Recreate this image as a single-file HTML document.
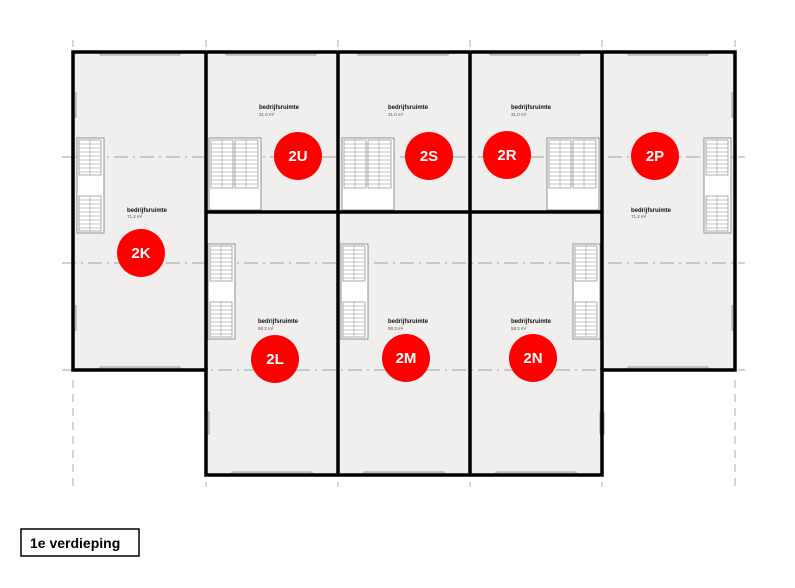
<!DOCTYPE html>
<html><head><style>body{margin:0;background:#fff}svg{display:block}</style></head><body>
<svg width="795" height="588" viewBox="0 0 795 588" xmlns="http://www.w3.org/2000/svg" font-family="Liberation Sans, sans-serif">
<defs>
<g id="stairV">
<rect x="0" y="0" width="27" height="95" fill="#fff" stroke="#777" stroke-width="0.8"/>
<rect x="2" y="2" width="22" height="35" fill="#fff" stroke="#777" stroke-width="0.6"/>
<rect x="2" y="58" width="22" height="35" fill="#fff" stroke="#777" stroke-width="0.6"/>
<path d="M2 6h22M2 10h22M2 14h22M2 18h22M2 22h22M2 26h22M2 30h22M2 34h22M2 62h22M2 66h22M2 70h22M2 74h22M2 78h22M2 82h22M2 86h22M2 90h22M13 2v35M13 58v35" stroke="#888" stroke-width="0.5"/>
</g>
<g id="stairT">
<rect x="0" y="0" width="52" height="72" fill="#fff" stroke="#777" stroke-width="0.8"/>
<rect x="2" y="2" width="22" height="48" fill="#fff" stroke="#777" stroke-width="0.6"/>
<rect x="26" y="2" width="23" height="48" fill="#fff" stroke="#777" stroke-width="0.6"/>
<path d="M2 6h47M2 10h47M2 14h47M2 18h47M2 22h47M2 26h47M2 30h47M2 34h47M2 38h47M2 42h47M2 46h47M13 2v48M37 2v48" stroke="#888" stroke-width="0.5"/>
</g>
</defs>
<!-- floors -->
<g fill="#f0efee">
<rect x="73" y="52" width="133" height="318"/>
<rect x="206" y="52" width="396" height="423"/>
<rect x="602" y="52" width="133" height="318"/>
</g>
<!-- axis dash-dot lines -->
<g stroke="#888" stroke-width="0.8" stroke-dasharray="14,5,2,5" fill="none">
<line x1="62" y1="157" x2="745" y2="157"/>
<line x1="62" y1="263" x2="745" y2="263"/>
<line x1="62" y1="370" x2="745" y2="370"/>
</g>
<g stroke="#999" stroke-width="0.8">
<line x1="73" y1="40" x2="73" y2="47"/><line x1="206" y1="40" x2="206" y2="47"/><line x1="338" y1="40" x2="338" y2="47"/><line x1="470" y1="40" x2="470" y2="47"/><line x1="602" y1="40" x2="602" y2="47"/><line x1="735" y1="40" x2="735" y2="47"/>
<line x1="73" y1="380" x2="73" y2="487"  stroke-dasharray="8,6"/><line x1="206" y1="482" x2="206" y2="487"/><line x1="338" y1="482" x2="338" y2="487"/><line x1="470" y1="482" x2="470" y2="487"/><line x1="602" y1="482" x2="602" y2="487"/><line x1="735" y1="380" x2="735" y2="487" stroke-dasharray="8,6"/>
</g>
<!-- stairs -->
<use href="#stairV" x="77" y="138"/>
<use href="#stairV" x="704" y="138"/>
<use href="#stairT" x="209" y="138"/>
<use href="#stairT" x="342" y="138"/>
<use href="#stairT" x="547" y="138"/>
<use href="#stairV" x="208" y="244"/>
<use href="#stairV" x="341" y="244"/>
<use href="#stairV" x="573" y="244"/>
<!-- windows -->
<g fill="#e4e4e4" stroke="#888" stroke-width="0.8">
<rect x="100" y="51" width="80" height="4"/><rect x="226" y="51" width="90" height="4"/><rect x="358" y="51" width="90" height="4"/><rect x="490" y="51" width="90" height="4"/><rect x="628" y="51" width="80" height="4"/>
<rect x="100" y="367" width="80" height="4"/><rect x="628" y="367" width="80" height="4"/>
<rect x="232" y="472" width="80" height="4"/><rect x="364" y="472" width="80" height="4"/><rect x="496" y="472" width="80" height="4"/>
<rect x="72" y="93" width="4" height="24"/><rect x="72" y="306" width="4" height="24"/><rect x="732" y="93" width="4" height="24"/><rect x="732" y="306" width="4" height="24"/>
<rect x="205" y="412" width="4" height="22"/><rect x="600" y="412" width="4" height="22"/>
</g>
<!-- walls -->
<g stroke="#000" stroke-width="3.5" fill="none">
<path d="M73 52H735V370H602V475H206V370H73Z"/>
<line x1="206" y1="52" x2="206" y2="370"/>
<line x1="338" y1="52" x2="338" y2="475"/>
<line x1="470" y1="52" x2="470" y2="475"/>
<line x1="602" y1="52" x2="602" y2="370"/>
<line x1="206" y1="212" x2="602" y2="212"/>
</g>
<!-- labels -->
<g font-size="6" fill="#111" font-weight="bold">
<text x="259" y="109">bedrijfsruimte</text><text x="388" y="109">bedrijfsruimte</text><text x="511" y="109">bedrijfsruimte</text>
<text x="127" y="212">bedrijfsruimte</text><text x="631" y="212">bedrijfsruimte</text>
<text x="258" y="323">bedrijfsruimte</text><text x="388" y="323">bedrijfsruimte</text><text x="511" y="323">bedrijfsruimte</text>
</g>
<g font-size="4.5" fill="#555">
<text x="259" y="116">31.0 m²</text><text x="388" y="116">31.0 m²</text><text x="511" y="116">31.0 m²</text>
<text x="127" y="218">71.2 m²</text><text x="631" y="218">71.2 m²</text>
<text x="258" y="330">58.2 m²</text><text x="388" y="330">58.3 m²</text><text x="511" y="330">58.2 m²</text>
</g>
<!-- circles -->
<g fill="#f00">
<circle cx="298" cy="156" r="24"/><circle cx="429" cy="156" r="24"/><circle cx="507" cy="155" r="24"/><circle cx="655" cy="156" r="24"/>
<circle cx="141" cy="253" r="24"/><circle cx="275" cy="359" r="24"/><circle cx="406" cy="358" r="24"/><circle cx="533" cy="358" r="24"/>
</g>
<g fill="#fff" font-size="15" font-weight="bold" text-anchor="middle">
<text x="298" y="161">2U</text><text x="429" y="161">2S</text><text x="507" y="160">2R</text><text x="655" y="161">2P</text>
<text x="141" y="258">2K</text><text x="275" y="364">2L</text><text x="406" y="363">2M</text><text x="533" y="363">2N</text>
</g>
<rect x="21" y="529" width="118" height="27" fill="#fff" stroke="#000" stroke-width="1.5"/>
<text x="30" y="548" font-size="14" font-weight="bold" fill="#000">1e verdieping</text>
</svg>
</body></html>
